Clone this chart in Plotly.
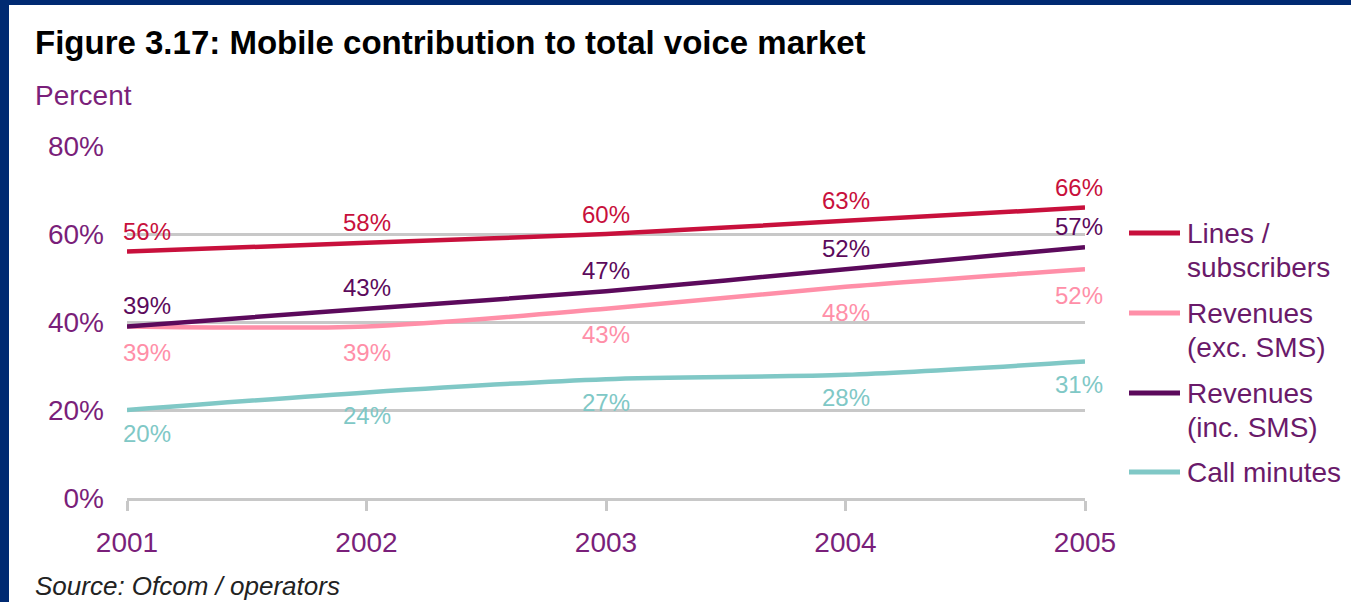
import plotly.graph_objects as go

years = [2001, 2002, 2003, 2004, 2005]
lines_subscribers = [56, 58, 60, 63, 66]
revenues_exc_sms = [39, 39, 43, 48, 52]
revenues_inc_sms = [39, 43, 47, 52, 57]
call_minutes = [20, 24, 27, 28, 31]
y_ticks = [0, 20, 40, 60, 80]
y_tick_labels = ["0%", "20%", "40%", "60%", "80%"]
legend_texts = [["Lines /", "subscribers"], ["Revenues", "(exc. SMS)"],
                ["Revenues", "(inc. SMS)"], ["Call minutes"]]

W, H = 1351, 602
L, R, T, B = 127, 1085, 146, 498
FONT = "Liberation Sans, Arial, sans-serif"
PURPLE_TXT = "#7a1f7a"
GRID = "#c8c8c8"


def px(x):
    return (x - L) / (R - L)


def py(y):
    return (B - y) / (B - T)


series = [
    # values, colour, label colour, label y offset (px, up positive)
    (lines_subscribers, "#c8103c", "#c8103c", 20),
    (revenues_exc_sms, "#ff8fa8", "#ff8fa8", -26),
    (revenues_inc_sms, "#5c0a5c", "#5c0a5c", 21),
    (call_minutes, "#80c8c6", "#80c8c6", -23),
]

fig = go.Figure()
annotations = []
shapes = []

# draw order: teal, pink, purple, red on top
for idx in [3, 1, 2, 0]:
    vals, col, lcol, off = series[idx]
    fig.add_trace(go.Scatter(
        x=years, y=vals, mode="lines",
        line=dict(color=col, width=4.5, shape="spline", smoothing=0.8),
        showlegend=False, hoverinfo="x+y"))

for vals, col, lcol, off in series:
    for i, (xv, yv) in enumerate(zip(years, vals)):
        xs = 0
        if i == 0:
            xs = 20
        elif i == len(years) - 1:
            xs = -6
        annotations.append(dict(
            x=xv, y=yv, xref="x", yref="y", text=f"{yv}%", showarrow=False,
            xanchor="center", yanchor="middle", xshift=xs, yshift=off,
            font=dict(family=FONT, size=24, color=lcol)))

# legend (manual)
legend_y = [233, 313, 393, 472]
legend_cols = [series[0][1], series[1][1], series[2][1], series[3][1]]
for ly, col, texts in zip(legend_y, legend_cols, legend_texts):
    shapes.append(dict(type="line", xref="paper", yref="paper",
                       x0=px(1129), x1=px(1180), y0=py(ly), y1=py(ly),
                       line=dict(color=col, width=5)))
    for j, t in enumerate(texts):
        annotations.append(dict(
            x=px(1185), y=py(ly + 34 * j), xref="paper", yref="paper",
            text=t, showarrow=False, xanchor="left", yanchor="middle",
            font=dict(family=FONT, size=28, color="#6a1a6a")))

# title, axis title, source
annotations.append(dict(
    x=px(33), y=py(43), xref="paper", yref="paper",
    text="<b>Figure 3.17: Mobile contribution to total voice market</b>",
    showarrow=False, xanchor="left", yanchor="middle",
    font=dict(family=FONT, size=33, color="#000000")))
annotations.append(dict(
    x=px(33), y=py(95), xref="paper", yref="paper", text="Percent",
    showarrow=False, xanchor="left", yanchor="middle",
    font=dict(family=FONT, size=28, color=PURPLE_TXT)))
annotations.append(dict(
    x=px(33), y=py(586), xref="paper", yref="paper",
    text="<i>Source: Ofcom / operators</i>",
    showarrow=False, xanchor="left", yanchor="middle",
    font=dict(family=FONT, size=26, color="#222222")))

# navy frame (top and left)
shapes.append(dict(type="rect", xref="paper", yref="paper",
                   x0=px(0), x1=px(W), y0=py(0), y1=py(5),
                   fillcolor="#002a72", line=dict(width=0), layer="below"))
shapes.append(dict(type="rect", xref="paper", yref="paper",
                   x0=px(0), x1=px(9), y0=py(0), y1=py(H),
                   fillcolor="#002a72", line=dict(width=0), layer="below"))

fig.update_layout(
    width=W, height=H,
    margin=dict(l=L, r=W - R, t=T, b=H - B, autoexpand=False),
    paper_bgcolor="white", plot_bgcolor="white",
    annotations=annotations, shapes=shapes,
    xaxis=dict(range=[2001, 2005], tickvals=years, ticktext=[str(y) for y in years],
               showgrid=False, zeroline=False, showline=True, linecolor=GRID,
               linewidth=3, ticks="outside", ticklen=10, tickwidth=3,
               tickcolor=GRID, ticklabelstandoff=7,
               tickfont=dict(family=FONT, size=28, color=PURPLE_TXT)),
    yaxis=dict(range=[0, 80], tickvals=y_ticks, ticktext=y_tick_labels,
               showgrid=True, gridcolor=GRID, gridwidth=3, zeroline=False,
               showline=False, ticks="", ticklabelstandoff=22,
               tickfont=dict(family=FONT, size=28, color=PURPLE_TXT)),
)

fig.write_html("out.html")
